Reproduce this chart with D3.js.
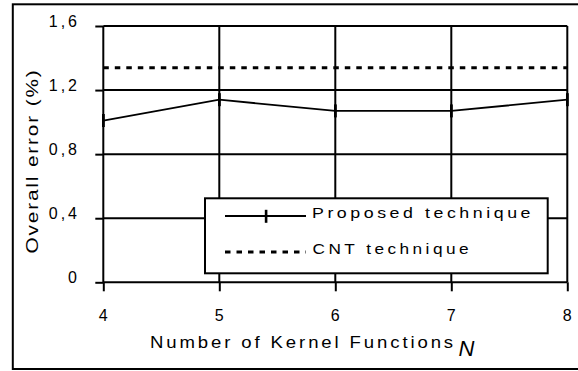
<!DOCTYPE html>
<html>
<head>
<meta charset="utf-8">
<script src="https://cdn.jsdelivr.net/npm/d3@7/dist/d3.min.js"></script>
<style>
  html, body { margin: 0; padding: 0; background: #fff; }
  svg { display: block; }
  text { font-family: "Liberation Sans", Arial, sans-serif; fill: #000; }
</style>
</head>
<body>
<script>
// ---- data ----
const kernels = [4, 5, 6, 7, 8];
const proposed = [1.01, 1.14, 1.07, 1.07, 1.14];
const cnt = [1.34, 1.34, 1.34, 1.34, 1.34];
const xTicks = [4, 5, 6, 7, 8];
const yTicks = [0, 0.4, 0.8, 1.2, 1.6];
const yTickLabels = ["0", "0,4", "0,8", "1,2", "1,6"];
const seriesNames = ["Proposed technique", "CNT technique"];

// ---- layout ----
const W = 578, H = 371;
const svg = d3.select("body").append("svg").attr("width", W).attr("height", H);
svg.append("rect").attr("width", W).attr("height", H).attr("fill", "#fff");

const x = d3.scaleLinear().domain([4, 8]).range([103.3, 567.3]);
const y = d3.scaleLinear().domain([0, 1.6]).range([282.3, 26]);

// outer frame
svg.append("rect").attr("x", 12.8).attr("y", 4.3).attr("width", 580).attr("height", 364.7)
  .attr("fill", "none").attr("stroke", "#000").attr("stroke-width", 2);

// grid
const grid = svg.append("g").attr("stroke", "#000").attr("stroke-width", 2);
grid.selectAll(".hg").data(yTicks).join("line")
  .attr("x1", x(4)).attr("x2", x(8)).attr("y1", d => y(d)).attr("y2", d => y(d));
grid.selectAll(".vg").data(xTicks).join("line")
  .attr("x1", d => x(d)).attr("x2", d => x(d)).attr("y1", y(0)).attr("y2", y(1.6));

// axes
const yAxis = svg.append("g").attr("transform", `translate(${x(4)},0)`)
  .call(d3.axisLeft(y).tickValues(yTicks).tickSize(8).tickSizeOuter(0)
    .tickFormat((d, i) => yTickLabels[i]));
yAxis.select(".domain").remove();
yAxis.selectAll(".tick line").attr("stroke", "#000").attr("stroke-width", 2);
yAxis.selectAll(".tick text").attr("x", -23.3).attr("dy", "0.5")
  .style("font-size", "16px").style("letter-spacing", "3px")
  .style("font-family", "'Liberation Sans', Arial, sans-serif").attr("fill", "#000");

const xAxis = svg.append("g").attr("transform", `translate(0,${y(0)})`)
  .call(d3.axisBottom(x).tickValues(xTicks).tickSize(9).tickSizeOuter(0)
    .tickFormat(d3.format("d")));
xAxis.select(".domain").remove();
xAxis.selectAll(".tick line").attr("stroke", "#000").attr("stroke-width", 2);
xAxis.selectAll(".tick text").attr("y", 39).attr("dy", "0").attr("dx", "-0.5")
  .style("font-size", "16px")
  .style("font-family", "'Liberation Sans', Arial, sans-serif").attr("fill", "#000");

// series
const line = d3.line().x(d => x(d[0])).y(d => y(d[1]));
const cntData = kernels.map((k, i) => [k, cnt[i]]);
const propData = kernels.map((k, i) => [k, proposed[i]]);

svg.append("path").datum(cntData).attr("d", line)
  .attr("fill", "none").attr("stroke", "#000").attr("stroke-width", 3)
  .attr("stroke-dasharray", "5.5,6");

svg.append("path").datum(propData).attr("d", line)
  .attr("fill", "none").attr("stroke", "#000").attr("stroke-width", 1.8);
svg.selectAll(".mk").data(propData).join("rect")
  .attr("x", d => x(d[0]) - 1.3).attr("y", d => y(d[1]) - 6.5)
  .attr("width", 2.8).attr("height", 13).attr("fill", "#000");

// legend
const lg = svg.append("g");
lg.append("rect").attr("x", 205).attr("y", 198.3).attr("width", 342.7).attr("height", 75)
  .attr("fill", "#fff").attr("stroke", "#000").attr("stroke-width", 2);
lg.append("line").attr("x1", 225).attr("x2", 306).attr("y1", 216).attr("y2", 216)
  .attr("stroke", "#000").attr("stroke-width", 1.8);
lg.append("rect").attr("x", 264.8).attr("y", 209.8).attr("width", 2.6).attr("height", 13).attr("fill", "#000");
lg.append("line").attr("x1", 225).attr("x2", 306).attr("y1", 252).attr("y2", 252)
  .attr("stroke", "#000").attr("stroke-width", 3).attr("stroke-dasharray", "5.5,6");
lg.append("text").attr("x", 312).attr("y", 217.5).attr("textLength", 222)
  .attr("lengthAdjust", "spacingAndGlyphs").style("letter-spacing", "3px")
  .style("font-size", "15px").text(seriesNames[0]);
lg.append("text").attr("x", 312.5).attr("y", 254.3).attr("textLength", 159.5)
  .attr("lengthAdjust", "spacingAndGlyphs").style("letter-spacing", "3px")
  .style("font-size", "15px").text(seriesNames[1]);

// axis titles
svg.append("text").attr("x", 150).attr("y", 347.5).attr("textLength", 306)
  .attr("lengthAdjust", "spacingAndGlyphs").style("letter-spacing", "2.5px")
  .style("font-size", "16px").text("Number of Kernel Functions");
svg.append("text").attr("x", 458.5).attr("y", 355.5).style("font-size", "22px")
  .style("font-style", "italic").text("N");
svg.append("text").attr("transform", "translate(38,161) rotate(-90)")
  .attr("text-anchor", "middle").attr("textLength", 185).attr("lengthAdjust", "spacingAndGlyphs")
  .style("font-size", "17px").style("letter-spacing", "1.5px").text("Overall error (%)");
</script>
</body>
</html>
